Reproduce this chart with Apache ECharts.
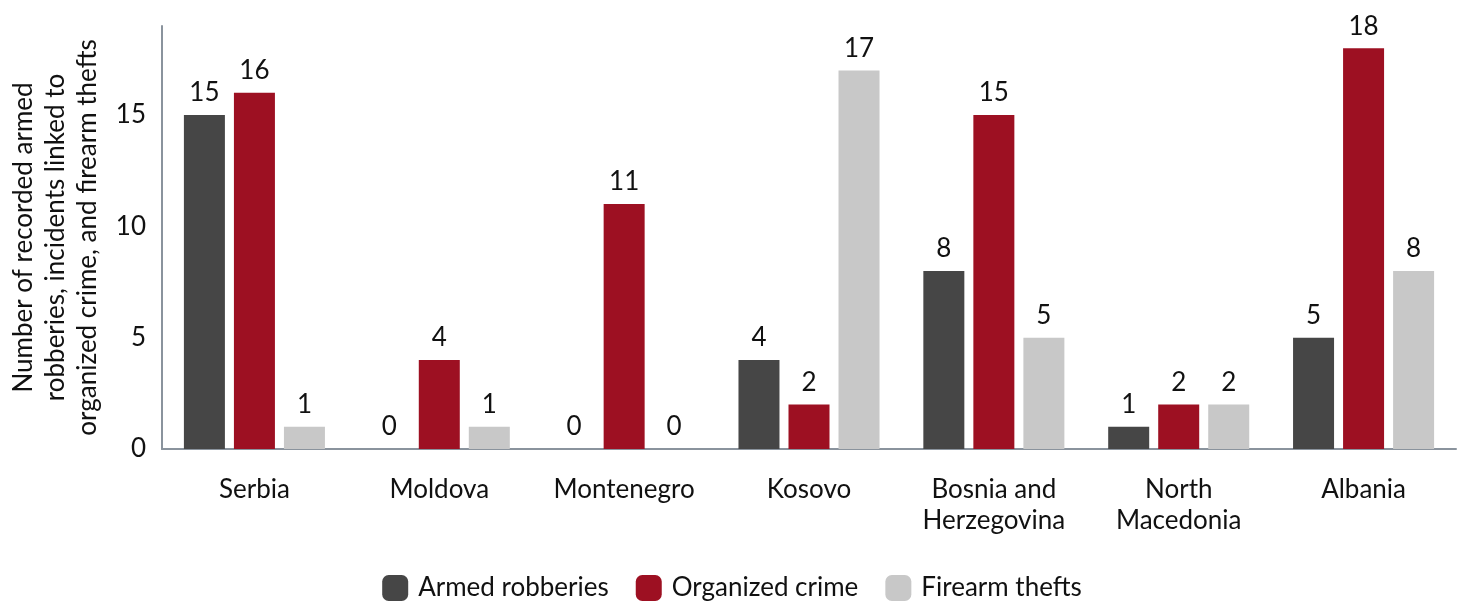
<!DOCTYPE html>
<html>
<head>
<meta charset="utf-8">
<script src="https://cdn.jsdelivr.net/npm/echarts@6/dist/echarts.min.js"></script>
<style>
  html, body { margin: 0; padding: 0; background: #fff; }
  #chart { width: 1464px; height: 601px; }
</style>
</head>
<body>
<div id="chart"></div>
<script>
const countries = ['Serbia', 'Moldova', 'Montenegro', 'Kosovo', 'Bosnia and\nHerzegovina', 'North\nMacedonia', 'Albania'];
const armedRobberies = [15, 0, 0, 4, 8, 1, 5];
const organizedCrime = [16, 4, 11, 2, 15, 2, 18];
const firearmThefts = [1, 1, 0, 17, 5, 2, 8];

const font = 'Lato, "Noto Sans", sans-serif';
const axisGray = '#8a939d';

const chart = echarts.init(document.getElementById('chart'));

// same label style on every series
const barLabel = {
  show: true,
  position: 'top',
  distance: 9,
  color: '#111',
  fontSize: 26,
  fontFamily: font
};

function makeSeries(name, data, color) {
  return {
    name: name,
    type: 'bar',
    data: data,
    barWidth: 41,
    barGap: '22%',
    itemStyle: { color: color },
    label: barLabel
  };
}

chart.setOption({
  textStyle: { fontFamily: font },
  grid: { left: 155, right: 8, top: 26, bottom: 152 },
  legend: {
    bottom: -5,
    left: 'center',
    icon: 'roundRect',
    itemWidth: 26,
    itemHeight: 26,
    itemGap: 27,
    textStyle: { fontSize: 26, color: '#111', fontFamily: font, padding: [0, 0, 0, 5] }
  },
  xAxis: {
    type: 'category',
    data: countries,
    axisTick: { show: false },
    axisLine: { lineStyle: { color: axisGray, width: 2 } },
    axisLabel: { interval: 0, fontSize: 26, color: '#111', margin: 25, lineHeight: 31, fontFamily: font }
  },
  yAxis: {
    type: 'value',
    min: 0,
    max: 19,
    interval: 5,
    name: 'Number of recorded armed\nrobberies, incidents linked to\norganized crime, and firearm thefts',
    nameLocation: 'middle',
    nameGap: 58,
    nameTextStyle: { fontSize: 26, color: '#111', lineHeight: 32, fontFamily: font },
    splitLine: { show: false },
    axisTick: { show: false },
    axisLine: { show: true, lineStyle: { color: axisGray, width: 2 } },
    axisLabel: { fontSize: 26, color: '#111', margin: 16, showMaxLabel: false, fontFamily: font }
  },
  series: [
    makeSeries('Armed robberies', armedRobberies, '#464646'),
    makeSeries('Organized crime', organizedCrime, '#9d1022'),
    makeSeries('Firearm thefts', firearmThefts, '#c8c8c8')
  ]
});
</script>
</body>
</html>
